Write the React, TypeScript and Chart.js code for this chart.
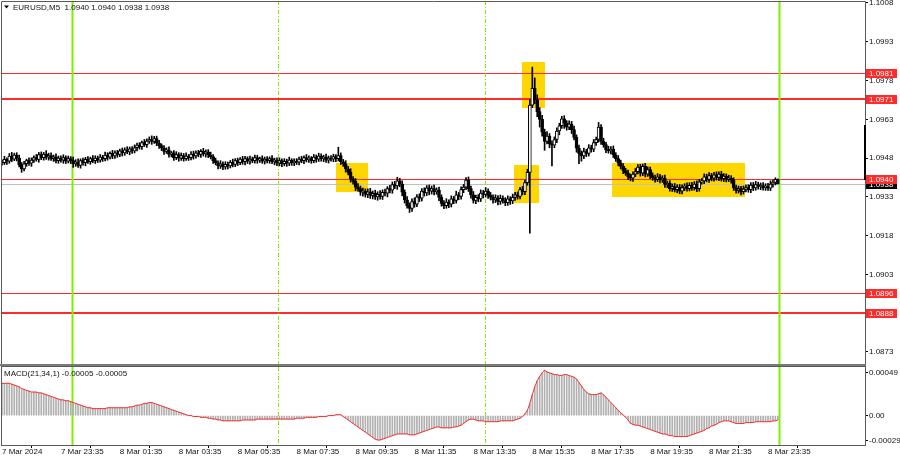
import React, { useEffect, useRef } from "react";
import { Chart, registerables } from "chart.js";
Chart.register(...registerables);

// ---------- data (prices in points = 0.00001 above 1.09000) ----------
const BASE = 1.09;
const PT = 0.00001;
const firstOpenPts = 465;
const closePts = [
  462, 475, 468, 488, 476, 492, 480, 455, 438, 458,
  470, 460, 472, 482, 475, 494, 482, 496, 484, 490,
  478, 485, 470, 480, 472, 482, 468, 478, 470, 458,
  465, 452, 470, 462, 475, 466, 478, 470, 480, 472,
  484, 478, 492, 484, 498, 488, 500, 494, 508, 500,
  512, 504, 516, 508, 520, 530, 524, 540, 532, 546,
  552, 545, 556, 538, 528, 518, 506, 512, 494, 500,
  482, 494, 480, 490, 478, 488, 482, 496, 488, 500,
  494, 506, 496, 504, 492, 486, 470, 462, 450, 458,
  446, 456, 450, 464, 456, 470, 462, 476, 466, 478,
  468, 476, 470, 482, 472, 478, 468, 476, 470, 478,
  466, 472, 460, 470, 458, 468, 460, 472, 462, 468,
  464, 476, 470, 482, 474, 480, 470, 484, 476, 488,
  478, 484, 472, 480, 476, 486, 478, 490, 466, 458,
  438, 425, 400, 390, 368, 362, 348, 352, 340, 350,
  336, 344, 330, 340, 332, 348, 344, 362, 356, 378,
  372, 392, 380, 348, 318, 296, 285, 312, 302, 330,
  325, 352, 345, 365, 352, 362, 350, 356, 328, 305,
  296, 310, 302, 322, 316, 338, 332, 358, 368, 395,
  362, 338, 316, 328, 322, 345, 340, 352, 336, 328,
  318, 326, 312, 324, 316, 308, 322, 314, 328, 338,
  332, 358, 350, 385, 425, 685, 750, 705, 660, 630,
  580, 545, 565, 535, 530, 552, 585, 605, 632, 615,
  600, 612, 590, 560, 518, 498, 488, 505, 498, 520,
  515, 540, 552, 600, 545, 532, 512, 508, 515, 492,
  478, 462, 448, 432, 422, 408, 402, 418, 428, 445,
  422, 448, 418, 436, 412, 404, 398, 408, 396, 402,
  378, 382, 362, 370, 358, 368, 352, 366, 372, 362,
  375, 366, 380, 362, 388, 392, 408, 398, 412, 402,
  415, 405, 418, 400, 410, 398, 402, 395, 365, 355,
  362, 350, 360, 366, 358, 376, 365, 378, 370, 374,
  366, 372, 364, 380, 386, 398, 380,
];
const upWick = [
  8, 12, 6, 10, 14, 7, 9, 12, 8, 10,
  6, 11, 9, 7, 12, 8, 10, 6, 13, 9,
  10, 7, 12, 8, 9, 11, 7, 10, 8, 14,
  9, 12, 7, 10, 8, 11, 6, 12, 9, 8,
  10, 7, 11, 9, 6, 12, 8, 10, 7, 11,
  8, 12, 7, 9, 11, 8, 10, 6, 12, 9,
  10, 14, 8, 9, 11, 7, 10, 8, 12, 6,
  9, 11, 7, 10, 8, 12, 6, 9, 11, 8,
  10, 7, 12, 8, 9, 11, 8, 10, 7, 12,
  8, 10, 9, 7, 12, 8, 10, 6, 11, 9,
  7, 12, 8, 10, 9, 6, 11, 8, 10, 7,
  12, 8, 9, 11, 7, 10, 8, 12, 6, 9,
  10, 8, 11, 7, 12, 9, 6, 10, 8, 11,
  9, 7, 12, 8, 10, 9, 8, 32, 10, 9,
  12, 10, 14, 9, 11, 13, 10, 12, 9, 11,
  13, 9, 12, 10, 14, 9, 12, 8, 13, 10,
  12, 14, 10, 12, 9, 13, 11, 10, 14, 9,
  12, 10, 13, 9, 11, 10, 14, 9, 12, 10,
  11, 13, 9, 12, 10, 14, 9, 11, 10, 10,
  12, 10, 13, 9, 11, 12, 10, 14, 9, 11,
  10, 12, 9, 13, 10, 11, 12, 9, 13, 10,
  11, 9, 12, 10, 12, 20, 82, 40, 20, 15,
  15, 12, 18, 10, 12, 10, 12, 10, 10, 12,
  10, 12, 10, 14, 10, 12, 10, 14, 9, 12,
  10, 12, 9, 18, 10, 12, 9, 14, 10, 12,
  9, 12, 10, 11, 9, 12, 10, 9, 12, 10,
  11, 9, 12, 10, 9, 11, 10, 12, 9, 10,
  12, 9, 11, 10, 12, 9, 10, 11, 9, 12,
  10, 11, 9, 12, 10, 9, 11, 10, 12, 9,
  10, 12, 9, 11, 10, 9, 12, 10, 9, 11,
  10, 9, 12, 10, 11, 9, 10, 12, 9, 10,
  11, 9, 10, 12, 9, 6, 2,
];
const dnWick = [
  9, 7, 12, 8, 10, 6, 11, 9, 13, 8,
  10, 8, 12, 9, 7, 11, 8, 10, 9, 12,
  7, 11, 9, 10, 8, 12, 9, 7, 11, 14,
  10, 8, 11, 9, 12, 7, 10, 8, 11, 9,
  8, 11, 9, 12, 7, 10, 9, 11, 8, 12,
  9, 7, 11, 10, 8, 12, 9, 10, 7, 11,
  9, 12, 8, 10, 11, 9, 12, 8, 10, 9,
  11, 8, 12, 9, 10, 7, 11, 9, 12, 8,
  9, 11, 8, 12, 10, 9, 11, 8, 12, 10,
  11, 9, 12, 8, 10, 9, 11, 7, 10, 12,
  9, 11, 8, 10, 12, 9, 8, 11, 9, 10,
  8, 12, 9, 10, 11, 8, 12, 9, 10, 11,
  9, 10, 8, 12, 9, 11, 10, 8, 12, 9,
  10, 12, 9, 11, 8, 10, 12, 9, 11, 10,
  12, 10, 13, 11, 14, 10, 12, 15, 11, 13,
  12, 14, 10, 13, 11, 12, 10, 14, 11, 12,
  10, 13, 11, 14, 12, 10, 15, 11, 12, 10,
  13, 11, 12, 10, 14, 11, 12, 10, 13, 11,
  12, 10, 14, 11, 12, 10, 13, 11, 12, 10,
  11, 13, 10, 12, 11, 10, 14, 11, 12, 10,
  12, 10, 13, 11, 10, 12, 11, 13, 10, 12,
  11, 10, 12, 11, 10, 235, 10, 15, 20, 30,
  15, 35, 10, 15, 80, 10, 12, 15, 10, 20,
  12, 10, 15, 10, 15, 40, 20, 10, 12, 10,
  12, 10, 11, 10, 12, 10, 11, 9, 12, 10,
  11, 12, 10, 12, 9, 11, 10, 12, 10, 9,
  12, 10, 11, 9, 12, 10, 11, 9, 12, 10,
  11, 12, 10, 11, 9, 12, 10, 11, 12, 10,
  9, 11, 10, 12, 10, 9, 11, 10, 12, 10,
  11, 10, 12, 9, 11, 10, 9, 12, 10, 11,
  10, 12, 9, 11, 10, 12, 11, 9, 10, 12,
  10, 11, 9, 10, 12, 10, 0,
];
// MACD(21,34,1) values in 0.00001
const macdPts = [
  37, 37, 37, 37, 36, 35, 34, 33, 31, 30,
  29, 28, 27, 27, 27, 26, 26, 25, 24, 23,
  22, 21, 20, 19, 18, 18, 17, 17, 16, 15,
  14, 13, 12, 11, 10, 9, 9, 8, 8, 8,
  8, 8, 8, 9, 9, 9, 9, 9, 9, 9,
  9, 9, 10, 10, 11, 12, 12, 13, 14, 14,
  15, 15, 14, 13, 12, 11, 10, 9, 8, 7,
  6, 5, 4, 3, 2, 1, 0, 0, -1, -1,
  -1, -2, -2, -2, -3, -3, -4, -4, -5, -5,
  -6, -6, -6, -6, -6, -6, -6, -6, -5, -5,
  -5, -5, -5, -5, -4, -4, -4, -4, -4, -4,
  -4, -4, -4, -4, -4, -4, -4, -4, -4, -4,
  -3, -3, -3, -3, -2, -2, -2, -2, -2, -1,
  -1, -1, -1, 0, 0, 0, 1, 1, 1, -1,
  -3, -5, -7, -9, -11, -13, -15, -17, -19, -21,
  -23, -25, -27, -28, -28, -27, -26, -25, -24, -23,
  -22, -21, -21, -21, -21, -21, -22, -22, -22, -21,
  -20, -19, -18, -17, -16, -15, -14, -13, -13, -14,
  -14, -14, -14, -14, -13, -13, -12, -11, -9, -7,
  -5, -4, -4, -5, -6, -6, -6, -7, -7, -7,
  -7, -7, -7, -6, -6, -6, -6, -6, -6, -5,
  -4, -3, -1, 2, 6, 14, 24, 33, 40, 45,
  49, 52, 50, 49, 48, 47, 47, 46, 46, 47,
  47, 46, 45, 44, 42, 38, 34, 30, 27, 25,
  24, 24, 24, 25, 26, 24, 21, 18, 15, 12,
  9, 6, 3, 1, -2, -5, -9, -10, -11, -11,
  -12, -13, -14, -15, -16, -17, -18, -19, -20, -21,
  -21, -22, -23, -23, -24, -24, -24, -24, -24, -24,
  -23, -22, -21, -20, -19, -18, -17, -15, -14, -12,
  -11, -10, -8, -7, -6, -6, -6, -7, -8, -9,
  -9, -9, -9, -8, -8, -8, -8, -7, -7, -7,
  -7, -7, -7, -7, -6, -6, -5,
];

const priceTicks = [1.1008, 1.0993, 1.0978, 1.0963, 1.0948, 1.0933, 1.0918, 1.0903, 1.0888, 1.0873];
const macdTicks = [0.00049, 0, -0.00029];
const macdTickLabels = ["0.00049", "0.00", "-0.00029"];
const timeTickIdx = [0, 24, 48, 72, 96, 120, 144, 168, 192, 216, 240, 264, 288, 312];
const timeTickLabels = [
  "7 Mar 2024", "7 Mar 23:35", "8 Mar 01:35", "8 Mar 03:35", "8 Mar 05:35", "8 Mar 07:35", "8 Mar 09:35",
  "8 Mar 11:35", "8 Mar 13:35", "8 Mar 15:35", "8 Mar 17:35", "8 Mar 19:35", "8 Mar 21:35", "8 Mar 23:35",
];
const levelPrices = [1.0981, 1.0971, 1.094, 1.0896, 1.0888];
const levelThick = [false, true, false, false, true];
const bidPrice = 1.0938;
const dayLineIdx = [29, 317];
const sessionLineIdx = [113, 197];
// rectangles: bar index from/to, price top/bottom
const zoneFrom = [135.9, 208.7, 211.6, 248.6];
const zoneTo = [148.9, 218.9, 220.9, 302.7];
const zoneTop = [1.09461, 1.09453, 1.09852, 1.09461];
const zoneBottom = [1.09349, 1.09306, 1.09674, 1.0933];
const rangeBarTop = 1.09608;
const rangeBarBottom = 1.09395;
const headerText = "EURUSD,M5  1.0940 1.0940 1.0938 1.0938";
const macdHeaderText = "MACD(21,34,1) -0.00005 -0.00005";

// ---------- style ----------
const FAMILY = "'Liberation Sans', Arial, sans-serif";
const FONT = `8px ${FAMILY}`;
const X_MIN = -0.4;
const X_MAX = 351.5;
const GREEN = "#7cf000";
const RED = "#ff2a2a";

const opensPts = closePts.map((c, i) => (i === 0 ? firstOpenPts : closePts[i - 1]));
const px = (p: number) => BASE + p * PT;

function drawVerticals(chart: any) {
  const { ctx, chartArea: a, scales } = chart;
  const x = scales.x;
  ctx.save();
  ctx.beginPath();
  ctx.rect(a.left, a.top, a.right - a.left, a.bottom - a.top);
  ctx.clip();
  ctx.strokeStyle = GREEN;
  ctx.lineWidth = 2;
  dayLineIdx.forEach((i) => {
    const xx = Math.round(x.getPixelForValue(i)) - 0.5;
    ctx.beginPath();
    ctx.moveTo(xx, a.top);
    ctx.lineTo(xx, a.bottom);
    ctx.stroke();
  });
  ctx.lineWidth = 1;
  ctx.setLineDash([4, 2, 1, 2]);
  sessionLineIdx.forEach((i) => {
    const xx = Math.round(x.getPixelForValue(i)) - 0.5;
    ctx.beginPath();
    ctx.moveTo(xx, a.top);
    ctx.lineTo(xx, a.bottom);
    ctx.stroke();
  });
  ctx.restore();
}

function tag(ctx: CanvasRenderingContext2D, left: number, y: number, text: string, bg: string) {
  ctx.fillStyle = bg;
  ctx.fillRect(left + 1, Math.round(y) - 4, 31, 9);
  ctx.fillStyle = "#ffffff";
  ctx.font = FONT;
  ctx.textAlign = "left";
  ctx.textBaseline = "middle";
  ctx.fillText(text, left + 4, Math.round(y) + 0.5);
}

const mainPlugin = {
  id: "mt4main",
  beforeDatasetsDraw(chart: any) {
    const { ctx, chartArea: a, scales } = chart;
    const x = scales.x;
    const y = scales.y;
    ctx.save();
    ctx.beginPath();
    ctx.rect(a.left, a.top, a.right - a.left, a.bottom - a.top);
    ctx.clip();
    ctx.fillStyle = "#ffd700";
    zoneFrom.forEach((f, k) => {
      const x0 = x.getPixelForValue(f);
      const x1 = x.getPixelForValue(zoneTo[k]);
      const y0 = y.getPixelForValue(zoneTop[k]);
      const y1 = y.getPixelForValue(zoneBottom[k]);
      ctx.fillRect(Math.round(x0), Math.round(y0), Math.round(x1 - x0), Math.round(y1 - y0));
    });
    ctx.strokeStyle = "#c0c0c0";
    ctx.lineWidth = 1;
    const by = Math.round(y.getPixelForValue(bidPrice)) + 0.5;
    ctx.beginPath();
    ctx.moveTo(a.left, by);
    ctx.lineTo(a.right, by);
    ctx.stroke();
    levelPrices.forEach((p, k) => {
      ctx.strokeStyle = RED;
      ctx.lineWidth = levelThick[k] ? 2 : 1;
      const yy = levelThick[k] ? Math.round(y.getPixelForValue(p)) : Math.round(y.getPixelForValue(p)) + 0.5;
      ctx.beginPath();
      ctx.moveTo(a.left, yy);
      ctx.lineTo(a.right, yy);
      ctx.stroke();
    });
    ctx.restore();
    drawVerticals(chart);
  },
  afterDraw(chart: any) {
    const { ctx, chartArea: a, scales } = chart;
    const y = scales.y;
    ctx.save();
    ctx.strokeStyle = "#5a5a5a";
    ctx.lineWidth = 1;
    ctx.beginPath();
    ctx.moveTo(a.left + 0.5, a.bottom);
    ctx.lineTo(a.left + 0.5, a.top + 0.5);
    ctx.lineTo(a.right + 0.5, a.top + 0.5);
    ctx.lineTo(a.right + 0.5, a.bottom);
    ctx.stroke();
    ctx.strokeStyle = "#7a7a7a";
    ctx.lineWidth = 2;
    ctx.beginPath();
    ctx.moveTo(0, a.bottom);
    ctx.lineTo(a.right + 1, a.bottom);
    ctx.stroke();
    ctx.fillStyle = "#000000";
    const r0 = y.getPixelForValue(rangeBarTop);
    const r1 = y.getPixelForValue(rangeBarBottom);
    ctx.fillRect(a.right - 1, r0, 2, r1 - r0);
    tag(ctx, a.right, y.getPixelForValue(bidPrice), bidPrice.toFixed(4), "#000000");
    levelPrices.forEach((p) => tag(ctx, a.right, y.getPixelForValue(p), p.toFixed(4), RED));
    ctx.fillStyle = "#000000";
    ctx.beginPath();
    ctx.moveTo(4, 5.5);
    ctx.lineTo(9, 5.5);
    ctx.lineTo(6.5, 8.5);
    ctx.closePath();
    ctx.fill();
    ctx.font = FONT;
    ctx.textAlign = "left";
    ctx.textBaseline = "middle";
    ctx.fillStyle = "#111111";
    ctx.fillText(headerText, 13, 7.5);
    ctx.restore();
  },
};

const macdPlugin = {
  id: "mt4macd",
  beforeDatasetsDraw(chart: any) {
    drawVerticals(chart);
  },
  afterDraw(chart: any) {
    const { ctx, chartArea: a } = chart;
    ctx.save();
    ctx.strokeStyle = "#5a5a5a";
    ctx.lineWidth = 1;
    ctx.strokeRect(a.left + 0.5, a.top - 0.5, a.right - a.left, a.bottom - a.top + 1);
    ctx.font = FONT;
    ctx.textAlign = "left";
    ctx.textBaseline = "middle";
    ctx.fillStyle = "#111111";
    ctx.fillText(macdHeaderText, 4, a.top + 7);
    ctx.restore();
  },
};

function tickFont() {
  return { family: FAMILY, size: 8, lineHeight: 1 };
}
function noPad(s: any) {
  s.paddingTop = 0;
  s.paddingBottom = 0;
  s.paddingLeft = 0;
  s.paddingRight = 0;
}

export default function App() {
  const mainRef = useRef<HTMLCanvasElement>(null);
  const macdRef = useRef<HTMLCanvasElement>(null);

  useEffect(() => {
    const bodies = closePts.map((c, i) => ({ x: i, y: [px(opensPts[i]), px(c)] }));
    const wicks = closePts.map((c, i) => {
      const o = opensPts[i];
      return { x: i, y: [px(Math.min(o, c) - dnWick[i]), px(Math.max(o, c) + upWick[i])] };
    });
    const bodyColors = closePts.map((c, i) => (c >= opensPts[i] ? "#ffffff" : "#000000"));

    const main = new Chart(mainRef.current as HTMLCanvasElement, {
      type: "bar",
      data: {
        datasets: [
          {
            label: "body",
            data: bodies as any,
            backgroundColor: bodyColors,
            borderColor: "#000000",
            borderWidth: 1,
            borderSkipped: false,
            barThickness: 3,
            minBarLength: 1,
            grouped: false,
            order: 0,
          } as any,
          {
            label: "wick",
            data: wicks as any,
            backgroundColor: "#000000",
            borderWidth: 0,
            barThickness: 1,
            grouped: false,
            order: 1,
          } as any,
        ],
      },
      options: {
        responsive: false,
        animation: false,
        devicePixelRatio: 1,
        events: [],
        layout: { padding: { left: 1, top: 1, right: 0, bottom: 1 } },
        plugins: { legend: { display: false }, tooltip: { enabled: false } },
        scales: {
          x: { type: "linear", min: X_MIN, max: X_MAX, offset: false, display: false },
          y: {
            type: "linear",
            position: "right",
            min: 1.086797,
            max: 1.100877,
            afterFit: (s: any) => {
              s.width = 35;
              noPad(s);
            },
            afterBuildTicks: (s: any) => {
              s.ticks = priceTicks.map((v) => ({ value: v }));
            },
            ticks: {
              callback: (v: any) => Number(v).toFixed(4),
              color: "#111111",
              font: tickFont(),
              padding: 1,
              autoSkip: false,
            },
            grid: { drawOnChartArea: false, color: "#000000", tickLength: 3 },
            border: { display: false },
          },
        },
      } as any,
      plugins: [mainPlugin],
    });

    const macd = new Chart(macdRef.current as HTMLCanvasElement, {
      type: "bar",
      data: {
        datasets: [
          {
            type: "line",
            label: "signal",
            data: macdPts.map((v, i) => ({ x: i, y: v * PT })),
            borderColor: "#ff2a2a",
            borderWidth: 1,
            pointRadius: 0,
            tension: 0,
            order: 0,
          } as any,
          {
            type: "bar",
            label: "macd",
            data: macdPts.map((v, i) => ({ x: i, y: v * PT })),
            backgroundColor: "#b0b0b0",
            borderWidth: 0,
            barThickness: 1,
            grouped: false,
            order: 1,
          } as any,
        ],
      },
      options: {
        responsive: false,
        animation: false,
        devicePixelRatio: 1,
        events: [],
        layout: { padding: { left: 1, top: 1, right: 0, bottom: 0 } },
        plugins: { legend: { display: false }, tooltip: { enabled: false } },
        scales: {
          x: {
            type: "linear",
            min: X_MIN,
            max: X_MAX,
            offset: false,
            afterFit: (s: any) => {
              s.height = 15;
              noPad(s);
            },
            afterBuildTicks: (s: any) => {
              s.ticks = timeTickIdx.map((v) => ({ value: v }));
            },
            ticks: {
              autoSkip: false,
              maxRotation: 0,
              minRotation: 0,
              align: "start",
              padding: 0,
              color: "#111111",
              font: tickFont(),
              callback: (_v: any, idx: number) => timeTickLabels[idx],
            },
            grid: { drawOnChartArea: false, color: "#000000", tickLength: 3 },
            border: { display: false },
          },
          y: {
            type: "linear",
            position: "right",
            min: -0.000337,
            max: 0.000557,
            afterFit: (s: any) => {
              s.width = 35;
              noPad(s);
            },
            afterBuildTicks: (s: any) => {
              s.ticks = macdTicks.map((v) => ({ value: v }));
            },
            ticks: {
              autoSkip: false,
              color: "#111111",
              font: tickFont(),
              padding: 1,
              callback: (_v: any, idx: number) => macdTickLabels[idx],
            },
            grid: { drawOnChartArea: false, color: "#000000", tickLength: 3 },
            border: { display: false },
          },
        },
      } as any,
      plugins: [macdPlugin],
    });

    return () => {
      main.destroy();
      macd.destroy();
    };
  }, []);

  return (
    <div style={{ position: "absolute", left: 0, top: 0, width: 900, height: 460, background: "#ffffff" }}>
      <canvas ref={mainRef} width={900} height={366} style={{ position: "absolute", left: 0, top: 0 }} />
      <canvas ref={macdRef} width={900} height={94} style={{ position: "absolute", left: 0, top: 366 }} />
    </div>
  );
}
